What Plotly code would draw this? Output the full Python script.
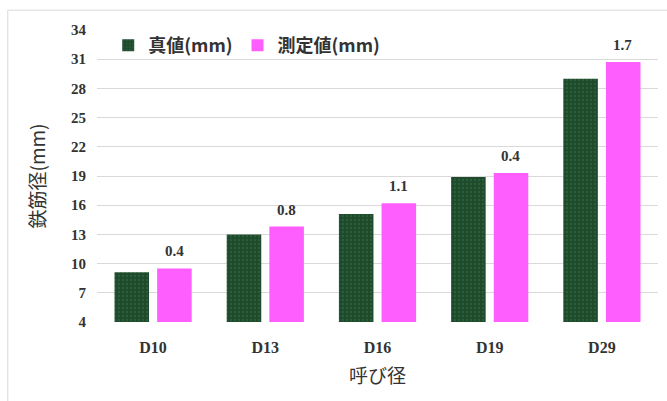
import plotly.graph_objects as go

# Nominal bar sizes and measured diameters (mm)
categories = ["D10", "D13", "D16", "D19", "D29"]
true_values = [9.1, 13.0, 15.1, 18.9, 29.0]
differences = [0.4, 0.8, 1.1, 0.4, 1.7]
measured_values = [round(t + d, 1) for t, d in zip(true_values, differences)]
y_ticks = [4, 7, 10, 13, 16, 19, 22, 25, 28, 31, 34]

label_font = dict(family="Liberation Serif", size=15, color="#333333")
cjk = "Noto Sans CJK JP"

fig = go.Figure()
fig.add_trace(go.Bar(
    x=categories, y=true_values, name="<b>真値(mm)</b>",
    marker=dict(
        color="#1f4d2c",
        line=dict(width=0),
        pattern=dict(shape=".", fgcolor="#3a7048", bgcolor="#1d4a2a",
                     size=4, solidity=0.3),
    ),
))
fig.add_trace(go.Bar(
    x=categories, y=measured_values, name="<b>測定値(mm)</b>",
    marker=dict(color="#ff5eff", line=dict(width=0)),
))

# difference labels above the measured bars
for cat, val, diff in zip(categories, measured_values, differences):
    fig.add_annotation(
        x=cat, y=val, text=f"<b>{diff:.1f}</b>", showarrow=False,
        xshift=21, yshift=17, font=label_font,
    )

# light frame around the chart
fig.add_shape(
    type="rect", xref="paper", yref="paper",
    x0=-0.159, x1=1.05, y0=-0.3, y1=1.068,
    line=dict(color="#d9d9d9", width=1), fillcolor="rgba(0,0,0,0)", layer="below",
)

fig.update_layout(
    width=667, height=401,
    margin=dict(l=97, r=9, t=30, b=79),
    paper_bgcolor="white", plot_bgcolor="white",
    barmode="group", bargap=0.24, bargroupgap=0.19,
    showlegend=True,
    legend=dict(
        orientation="h", x=0.02, y=1.01, xanchor="left", yanchor="top",
        font=dict(family=cjk, size=18, color="#333333"),
        bgcolor="rgba(0,0,0,0)", itemwidth=30, traceorder="normal",
    ),
    xaxis=dict(
        showgrid=False, showline=False, ticks="",
        tickfont=dict(family="Liberation Serif", size=16, color="#333333", weight="bold"),
        ticklabelstandoff=14,
        title=dict(text="呼び径", font=dict(family=cjk, size=19, color="#333333"), standoff=14),
    ),
    yaxis=dict(
        range=[4, 34], tickvals=y_ticks, showgrid=True, gridcolor="#d9d9d9",
        gridwidth=1, zeroline=False, showline=False, ticks="",
        tickfont=dict(family="Liberation Serif", size=15, color="#333333", weight="bold"),
        ticklabelstandoff=10,
        title=dict(text="鉄筋径(mm)", font=dict(family=cjk, size=19, color="#333333"), standoff=20),
    ),
)

fig.write_html("out.html")
